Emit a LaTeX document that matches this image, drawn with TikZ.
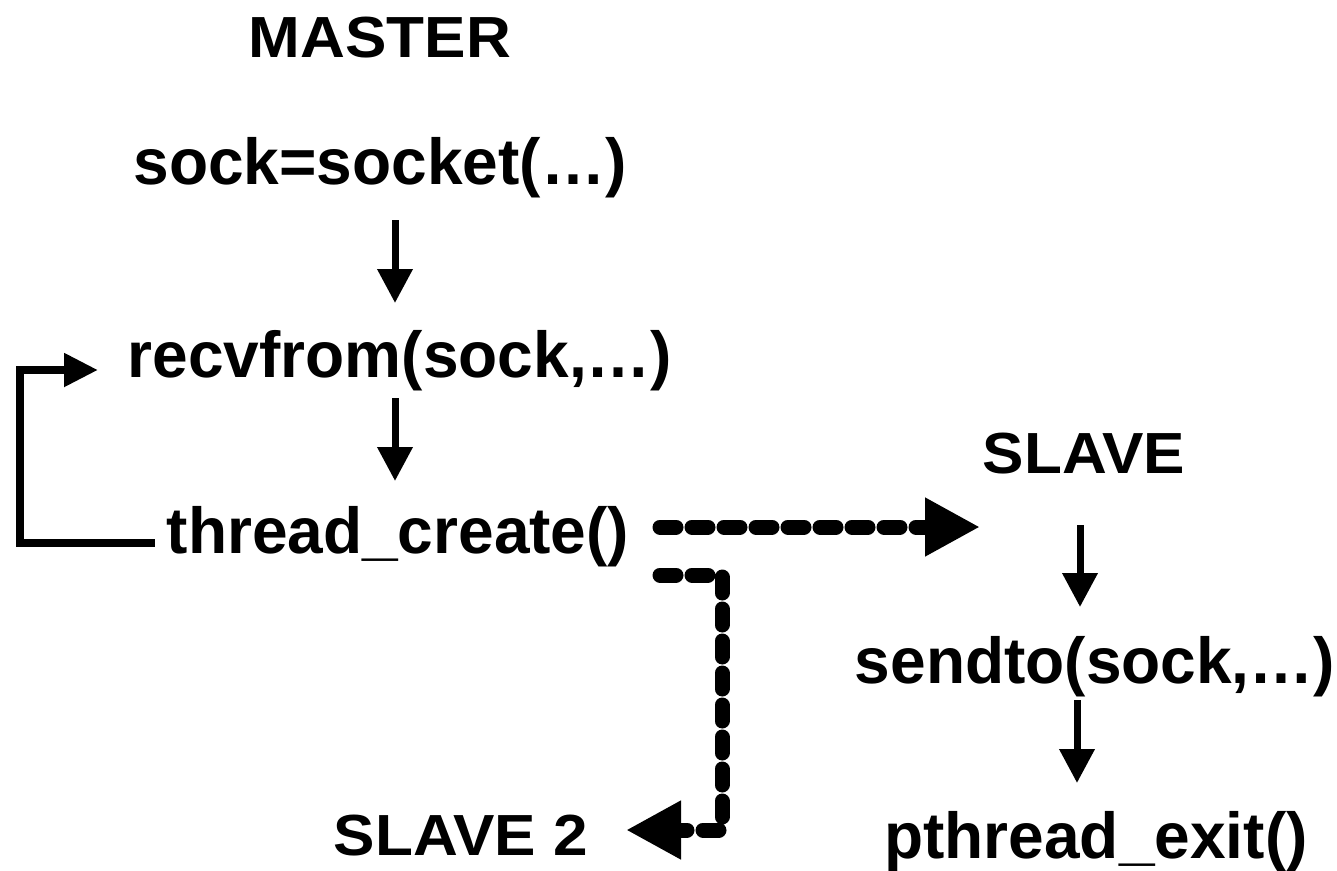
\documentclass[tikz,border=0pt]{standalone}
\usepackage{fontspec}
\setmainfont{Liberation Sans}
\usetikzlibrary{arrows.meta}
\begin{document}
\begin{tikzpicture}[x=1pt,y=-1pt,
  code/.style={font=\fontsize{65}{72}\selectfont\bfseries, inner sep=0pt, anchor=base, xscale=0.985},
  title/.style={font=\fontsize{58}{66}\selectfont\bfseries, inner sep=0pt, anchor=base, xscale=1.07},
  flow/.style={line width=7pt, -{Triangle[length=34pt,width=34pt]}},
  loopline/.style={line width=8pt, line join=miter, -{Triangle[length=34pt,width=32pt]}},
  spawn/.style={line width=15pt, line cap=round, line join=round, dash pattern=on 16pt off 16pt,
    -{Triangle[length=55pt,width=55pt,line cap=butt,sep=-2pt]}}]
  \useasboundingbox (0,0) rectangle (1337,870);

  % master side
  \node[title] (master) at (380,57) {MASTER};
  \node[code] (sock) at (380,184) {sock=socket(…)};
  \node[code] (recv) at (400,377) {recvfrom(sock,…)};
  \node[code] (thr) at (398,553) {thread\_create()};

  % slave side
  \node[title] (slave) at (1084,473) {SLAVE};
  \node[code] (send) at (1095,683) {sendto(sock,…)};
  \node[code] (exit) at (1096,858) {pthread\_exit()};
  \node[title] (slave2) at (461,855) {SLAVE 2};

  \coordinate (a1s) at (395,220); \coordinate (a1e) at (395,303);
  \coordinate (a2s) at (395,398); \coordinate (a2e) at (395,481);
  \coordinate (a3s) at (1080,525); \coordinate (a3e) at (1080,607);
  \coordinate (a4s) at (1077,700); \coordinate (a4e) at (1077,783);
  \draw[flow] (a1s) -- (a1e);
  \draw[flow] (a2s) -- (a2e);
  \draw[flow] (a3s) -- (a3e);
  \draw[flow] (a4s) -- (a4e);

  % loop back to recvfrom
  \coordinate (lp) at (98,370);
  \draw[loopline] (thr.west |- 0,543) ++(-12,0) -- (20,543) -- (20,370) -- (lp);

  % spawning threads
  \coordinate (d1s) at (660,527); \coordinate (d1e) at (978,527);
  \draw[spawn] (d1s) -- (d1e);
  \coordinate (d2s) at (660,575); \coordinate (d2e) at (628,830);
  \draw[spawn] (d2s) -- (722,575) -- (722,830) -- (d2e);
\end{tikzpicture}
\end{document}
